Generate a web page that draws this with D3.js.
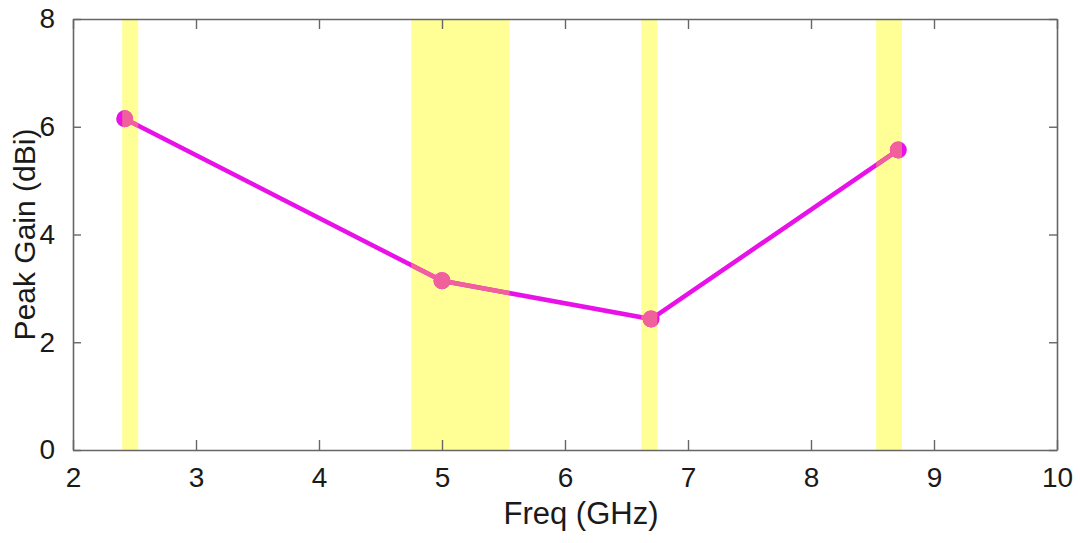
<!DOCTYPE html>
<html><head><meta charset="utf-8">
<script src="https://cdn.jsdelivr.net/npm/d3@7"></script>
<style>body{margin:0;background:#fff;} svg{display:block;} text{font-family:"Liberation Sans",Arial,sans-serif;fill:#1a1a1a;}</style>
</head><body><svg id="c" width="1080" height="543"></svg>
<script>
const freqs = [2.42, 5.0, 6.70, 8.71];
const gains = [6.15, 3.14, 2.43, 5.57];
const bandStarts = [2.40, 4.75, 6.62, 8.53];
const bandEnds = [2.53, 5.55, 6.75, 8.74];
const xTicks = [2, 3, 4, 5, 6, 7, 8, 9, 10];
const yTicks = [0, 2, 4, 6, 8];

const svg = d3.select("#c");
const L = 73, R = 1057, T = 19, B = 450;
const x = d3.scaleLinear().domain([2, 10]).range([L, R]);
const y = d3.scaleLinear().domain([0, 8]).range([B, T]);

// bands
svg.selectAll("rect.band").data(bandStarts).enter().append("rect")
  .attr("class", "band")
  .attr("x", d => x(d)).attr("width", (d, i) => x(bandEnds[i]) - x(d))
  .attr("y", T).attr("height", B - T)
  .attr("fill", "#ffff96");

// clip for in-band overlay
const clip = svg.append("defs").append("clipPath").attr("id", "bandclip");
clip.selectAll("rect").data(bandStarts).enter().append("rect")
  .attr("x", d => x(d)).attr("width", (d, i) => x(bandEnds[i]) - x(d))
  .attr("y", T).attr("height", B - T);

const pts = freqs.map((f, i) => [f, gains[i]]);
const lineGen = d3.line().x(d => x(d[0])).y(d => y(d[1]));
function drawSeries(g, color) {
  g.append("path").datum(pts).attr("d", lineGen)
    .attr("fill", "none").attr("stroke", color).attr("stroke-width", 4.5);
  g.selectAll("circle").data(pts).enter().append("circle")
    .attr("cx", d => x(d[0])).attr("cy", d => y(d[1])).attr("r", 8.5)
    .attr("fill", color);
}
drawSeries(svg.append("g"), "#e812e8");
drawSeries(svg.append("g").attr("clip-path", "url(#bandclip)"), "#f0609a");

// axes
const ax = svg.append("g");
ax.append("g").attr("transform", `translate(0,${B})`)
  .call(d3.axisBottom(x).tickValues(xTicks).tickFormat(d3.format("d")).tickSizeInner(-10).tickSizeOuter(0).tickPadding(17));
ax.append("g").attr("transform", `translate(0,${T})`)
  .call(d3.axisTop(x).tickValues(xTicks).tickFormat("").tickSizeInner(-10).tickSizeOuter(0));
ax.append("g").attr("transform", `translate(${L},0)`)
  .call(d3.axisLeft(y).tickValues(yTicks).tickFormat(d3.format("d")).tickSizeInner(-8).tickSizeOuter(0).tickPadding(18));
ax.append("g").attr("transform", `translate(${R},0)`)
  .call(d3.axisRight(y).tickValues(yTicks).tickFormat("").tickSizeInner(-8).tickSizeOuter(0));
ax.selectAll("path.domain").attr("stroke", "#666").attr("stroke-width", 1.6);
ax.selectAll(".tick line").attr("stroke", "#666").attr("stroke-width", 1.4);
ax.selectAll(".tick text").attr("font-size", 28).attr("fill", "#1a1a1a")
  .style("font-family", "'Liberation Sans',Arial,sans-serif");

svg.append("text").attr("x", 581).attr("y", 524).attr("text-anchor", "middle")
  .attr("font-size", 31).text("Freq (GHz)");
svg.append("text").attr("transform", `translate(35,${(T + B) / 2}) rotate(-90)`)
  .attr("text-anchor", "middle").attr("font-size", 30).text("Peak Gain (dBi)");
</script></body></html>
